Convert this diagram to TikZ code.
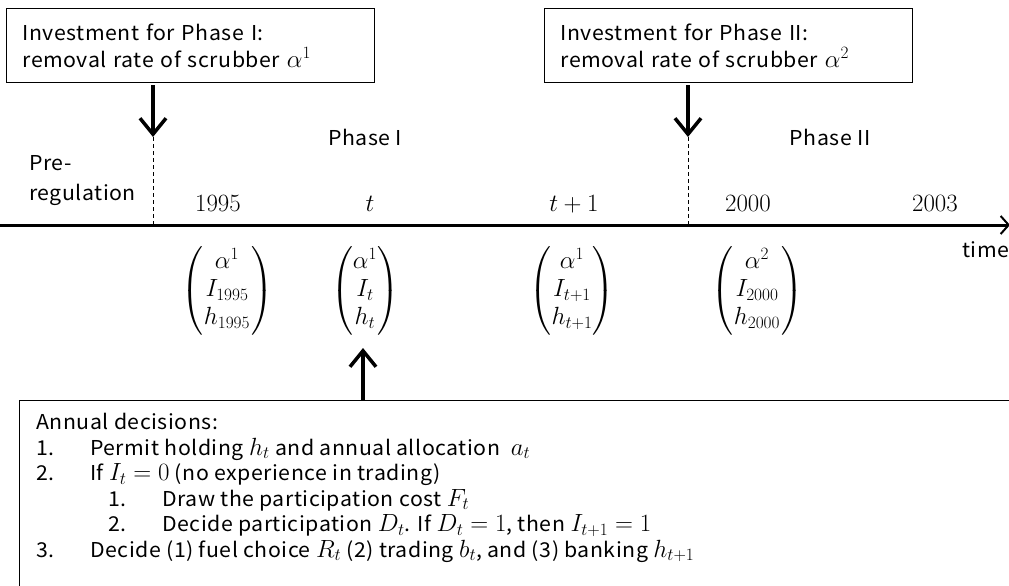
\documentclass[tikz,border=0pt]{standalone}
\usepackage[no-math]{fontspec}
\setmainfont{Noto Sans CJK JP}[FakeStretch=1.04, LetterSpace=2.5]
\usepackage{amsmath}
\DeclareMathSizes{20.5}{23}{16.5}{12}
\DeclareMathSizes{23}{23}{16.5}{12}
\usetikzlibrary{arrows.meta}
\begin{document}
\begin{tikzpicture}[x=1pt,y=-1pt,
  txt/.style={font=\fontsize{20.5}{27}\selectfont},
  mth/.style={font=\fontsize{23}{28}\selectfont, inner sep=0pt},
  invbox/.style={draw, line width=1pt, anchor=north west, minimum width=368pt, minimum height=74pt,
     inner xsep=16pt, inner ysep=0pt, text width=336pt, align=left, font=\fontsize{20.5}{27}\selectfont},
  bigarrow/.style={line width=3.5pt, -{Straight Barb[length=16pt,width=26pt,line width=3.5pt]}},
  axisline/.style={line width=3pt, -{Straight Barb[length=8pt,width=18pt,line width=2pt]}},
  dashline/.style={line width=0.8pt, dash pattern=on 4pt off 3pt},
]
\clip (0,0) rectangle (1009,586);
\fill[white] (0,0) rectangle (1009,586);

% investment boxes
\node[invbox] (inv1) at (6,8) {Investment for Phase I:\\removal rate of scrubber $\alpha^1$};
\node[invbox] (inv2) at (544,8) {Investment for Phase II:\\removal rate of scrubber $\alpha^2$};

% timeline
\coordinate (tl0) at (0,225);
\coordinate (tl1) at (1010,225);
\draw[axisline] (tl0) -- (tl1);

% phase boundaries
\coordinate (d1) at (153,137);
\coordinate (d2) at (688,137);
\draw[bigarrow] (d1 |- inv1.south) ++(0,2) -- (d1);
\draw[bigarrow] (d2 |- inv2.south) ++(0,2) -- (d2);
\draw[dashline] (d1) -- (d1 |- tl0);
\draw[dashline] (d2) -- (d2 |- tl0);

% labels
\node[txt, anchor=north west, align=left, inner sep=0pt, font=\fontsize{20.5}{30}\selectfont] (prereg) at (29,155) {Pre-\\regulation};
\node[txt] (ph1) at (365,137) {Phase I};
\node[txt] (ph2) at (830,137) {Phase II};
\node[txt, anchor=west, inner sep=0pt] (time) at (962,250) {time};

\node[mth, anchor=base] (y1995) at (218,211) {$1995$};
\node[mth, anchor=base] (yt) at (370,211) {$t$};
\node[mth, anchor=base] (yt1) at (574,211) {$t+1$};
\node[mth, anchor=base] (y2000) at (748,211) {$2000$};
\node[mth, anchor=base] (y2003) at (935,211) {$2003$};

% state vectors
\node[mth] (v1995) at (227,291) {$\begin{pmatrix}\hspace{12pt}\alpha^1\hspace{12pt}\\ I_{1995}\\ h_{1995}\end{pmatrix}$};
\node[mth] (vt) at (365,291) {$\begin{pmatrix}\alpha^1\\ I_{t}\\ h_{t}\end{pmatrix}$};
\node[mth] (vt1) at (572,291) {$\begin{pmatrix}\hspace{8pt}\alpha^1\hspace{8pt}\\ I_{t+1}\\ h_{t+1}\end{pmatrix}$};
\node[mth] (v2000) at (757,291) {$\begin{pmatrix}\hspace{12pt}\alpha^2\hspace{12pt}\\ I_{2000}\\ h_{2000}\end{pmatrix}$};

% annual decisions box
\node[draw, line width=1pt, anchor=north west, minimum width=1100pt, minimum height=250pt, inner sep=0pt] (decbox) at (19,400) {};
\node[anchor=north west, align=left, inner sep=0pt, font=\fontsize{20.5}{25.5}\selectfont] (dectext) at (36,413) {%
Annual decisions:\\
\makebox[54pt][l]{1.}Permit holding $h_t$ and annual allocation \ $a_t$\\
\makebox[54pt][l]{2.}If $I_t=0$ (no experience in trading)\\
\hspace*{72pt}\makebox[54pt][l]{1.}Draw the participation cost $F_t$\\
\hspace*{72pt}\makebox[54pt][l]{2.}Decide participation $D_t$. If $D_t=1$, then $I_{t+1}=1$\\
\makebox[54pt][l]{3.}Decide (1) fuel choice $R_t$ (2) trading $b_t$, and (3) banking $h_{t+1}$};

\coordinate (up) at (363,348);
\draw[bigarrow] (up |- decbox.north) -- (up);
\end{tikzpicture}
\end{document}
